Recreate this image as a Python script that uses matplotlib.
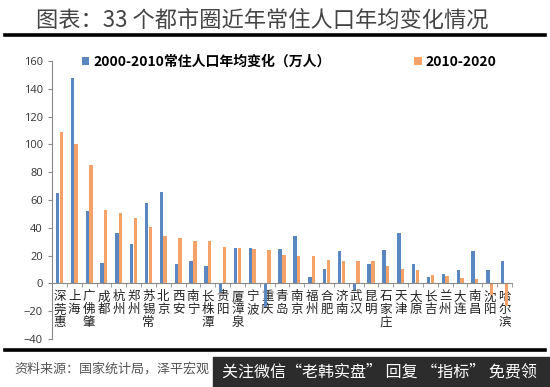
import matplotlib
matplotlib.use("Agg")
import matplotlib.pyplot as plt
import numpy as np
from matplotlib.patches import Rectangle
from matplotlib.lines import Line2D

plt.rcParams['font.family'] = ['Noto Sans CJK SC', 'DejaVu Sans']

# city groups (metropolitan areas)
cities = ['深莞惠', '上海', '广佛肇', '成都', '杭州', '郑州', '苏锡常', '北京', '西安', '南宁',
          '长株潭', '贵阳', '厦漳泉', '宁波', '重庆', '青岛', '南京', '福州', '合肥', '济南',
          '武汉', '昆明', '石家庄', '天津', '太原', '长吉', '兰州', '大连', '南昌', '沈阳', '哈尔滨']
# average yearly change of resident population, 10k people
chg_2000_2010 = [65, 148, 52, 14.5, 36, 28, 58, 65.5, 14, 16,
                 12.5, -6.5, 25.5, 25.8, -17, 24.8, 34, 4.5, 10.3, 23,
                 -4.5, 13.8, 24, 36.4, 14, 4.3, 6.5, 9.9, 23, 10, 16]
chg_2010_2020 = [109, 100, 85, 53, 51, 47, 40.5, 33.8, 33, 30.8,
                 30.5, 26.5, 25.5, 24.8, 23.8, 20.7, 20, 19.5, 17, 16,
                 16, 15.8, 12.3, 10.6, 10, 5.8, 5, 4, 3, -8.7, -16]
yticks = list(range(-40, 161, 20))

c_blue = '#5b87c1'
c_orange = '#f4a268'

fig = plt.figure(figsize=(5.5, 3.87), dpi=100)
W, H = 550, 387

# title + rule
fig.text(262 / W, 1 - 20 / H, '图表：33 个都市圈近年常住人口年均变化情况', ha='center', va='center',
         fontsize=16, color='#444444', fontweight='light')
fig.add_artist(Line2D([5 / W, 545 / W], [1 - 35 / H, 1 - 35 / H], color='black', lw=2.6))

ax = fig.add_axes([52 / W, 1 - 339 / H, 460 / W, 278 / H])
x = np.arange(len(cities))
w = 0.23
ax.bar(x - 0.125, chg_2000_2010, width=w, color=c_blue, label='2000-2010常住人口年均变化（万人）', zorder=2)
ax.bar(x + 0.125, chg_2010_2020, width=w, color=c_orange, label='2010-2020', zorder=2)

ax.set_xlim(-0.5, len(cities) - 0.5)
ax.set_ylim(-40, 160)
ax.set_yticks(yticks)
ax.tick_params(axis='y', labelsize=8, colors='#333333', length=3, color='#8a8a8a')
for lab in ax.get_yticklabels():
    lab.set_family(['Open Sans', 'DejaVu Sans'])

for s in ['top', 'right']:
    ax.spines[s].set_visible(False)
ax.spines['left'].set_color('#8a8a8a')
ax.spines['bottom'].set_position(('data', 0))
ax.spines['bottom'].set_color('#8a8a8a')

ax.set_xticks(x)
ax.set_xticklabels(['\n'.join(c) for c in cities], fontsize=9, color='#222222',
                   linespacing=1.0, va='top')
ax.tick_params(axis='x', length=0, pad=5)
ax.set_xticks(np.arange(-0.5, len(cities), 1), minor=True)
ax.tick_params(axis='x', which='minor', length=3, direction='out', color='#8a8a8a')

fig.legend(loc='center left', bbox_to_anchor=(76 / W, 1 - 62 / H), ncol=2, frameon=False,
           prop={'size': 10, 'weight': 'bold'}, handlelength=0.55, handleheight=0.55,
           handletextpad=0.3, columnspacing=6.0, borderaxespad=0)

# bottom rule and source
fig.add_artist(Line2D([5 / W, 545 / W], [1 - 350 / H, 1 - 350 / H], color='black', lw=2.6))
fig.text(14 / W, 1 - 369 / H, '资料来源：国家统计局，泽平宏观', ha='left', va='center',
         fontsize=9.4, color='#555555', fontweight='light')
fig.add_artist(Rectangle((213 / W, 0), 337 / W, 30 / H, transform=fig.transFigure,
                         color='#2c2c2c', zorder=5))
fig.text(222 / W, 1 - 372 / H, '关注微信“老韩实盘” 回复 “指标” 免费领', ha='left', va='center',
         fontsize=11.5, color='white', zorder=6)

fig.savefig('out.png', dpi=100)
